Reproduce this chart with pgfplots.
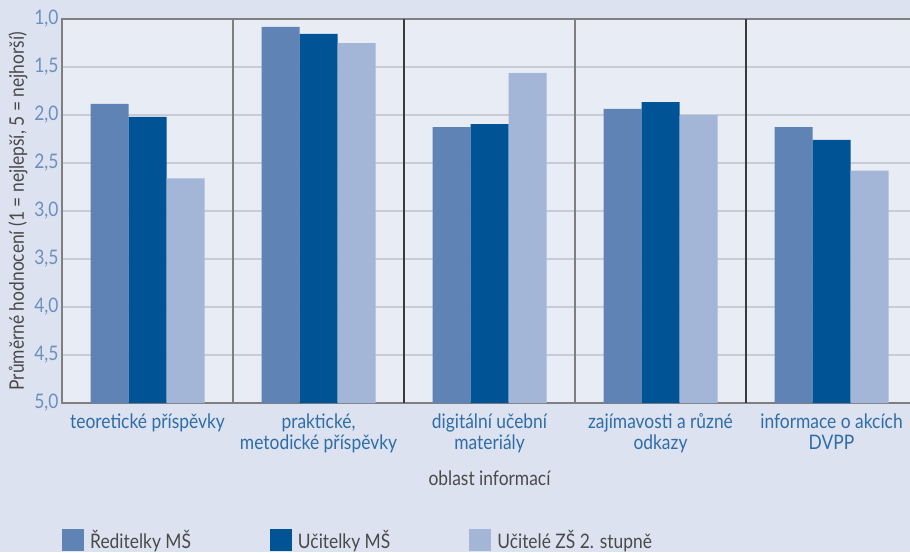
\documentclass[border=0pt]{standalone}
\usepackage{fontspec}
\setmainfont{Lato}[FakeStretch=0.87]
\usepackage{pgfplots}
\usepackage{pgfplotstable}
\pgfplotsset{compat=1.18}
\definecolor{bgout}{HTML}{DCE2EF}
\definecolor{bgin}{HTML}{E8ECF5}
\definecolor{cA}{HTML}{5F83B5}
\definecolor{cB}{HTML}{005496}
\definecolor{cC}{HTML}{A3B6D7}
\definecolor{lab}{HTML}{2F6DA8}
\definecolor{tickc}{HTML}{6A90C2}
\definecolor{txt}{HTML}{4A4A4A}
\definecolor{gridc}{HTML}{C9CCD5}
\definecolor{axc}{HTML}{7F7F82}
\definecolor{sepdark}{HTML}{3A3A3C}
% values: mean rating (1 = best, 5 = worst)
\pgfplotstableread{
x v
0 1.885
1 1.083
2 2.125
3 1.937
4 2.125
}\reditelky
\pgfplotstableread{
x v
0 2.02
1 1.156
2 2.094
3 1.865
4 2.26
}\ucitelky
\pgfplotstableread{
x v
0 2.66
1 1.25
2 1.562
3 2.00
4 2.58
}\ucitelezs
\begin{document}
\begin{tikzpicture}[x=1pt,y=1pt]
\fill[bgout] (0,0) rectangle (910,552);
\useasboundingbox (0,0) rectangle (910,552);
\begin{axis}[
  at={(62pt,149pt)}, anchor=south west,
  width=855pt, height=384pt, scale only axis,
  xmin=-0.5, xmax=4.5, ymin=0, ymax=4,
  axis background/.style={fill=bgin},
  ybar=0pt, bar width=38pt,
  axis line style={draw=axc, line width=1.6pt},
  major tick length=0pt,
  xtick={0,1,2,3,4},
  xticklabels={teoretické příspěvky,{praktické,\\metodické příspěvky},{digitální učební\\materiály},{zajímavosti a různé\\odkazy},{informace o akcích\\DVPP}},
  xticklabel style={font=\fontsize{20}{21}\selectfont, text=lab, align=center, anchor=north, yshift=-7pt},
  ytick={0,0.5,...,4},
  yticklabels={{5,0},{4,5},{4,0},{3,5},{3,0},{2,5},{2,0},{1,5},{1,0}},
  yticklabel style={font=\fontsize{20}{22}\selectfont, text=tickc},
  ymajorgrids,
  grid style={draw=gridc, line width=1.3pt},
  ylabel={Průměrné hodnocení (1 = nejlepší, 5 = nejhorší)},
  ylabel style={font=\fontsize{20}{22}\selectfont, text=txt},
  xlabel={oblast informací},
  xlabel style={font=\fontsize{20}{22}\selectfont, text=txt, at={(axis description cs:0.5,0)}, anchor=center, yshift=-75pt},
  legend columns=3,
  legend style={at={(axis description cs:0,0)}, anchor=north west, yshift=-125pt, draw=none, fill=none, inner sep=0pt, font=\fontsize{20}{22}\selectfont, text=txt, /tikz/every odd column/.append style={column sep=4pt}, /tikz/every even column/.append style={column sep=77pt}},
  legend image code/.code={\path[#1, draw=none] (0pt,-11pt) rectangle (22pt,11pt);},
  clip=false,
]
\addplot[fill=cA, draw=none] table[x=x, y expr=5-\thisrow{v}] {\reditelky};
\addplot[fill=cB, draw=none] table[x=x, y expr=5-\thisrow{v}] {\ucitelky};
\addplot[fill=cC, draw=none] table[x=x, y expr=5-\thisrow{v}] {\ucitelezs};
\legend{Ředitelky MŠ, Učitelky MŠ, Učitelé ZŠ 2. stupně}
\draw[axc, line width=1.4pt] (axis cs:0.5,0) -- (axis cs:0.5,4);
\draw[sepdark, line width=1.2pt] (axis cs:1.5,0) -- (axis cs:1.5,4);
\draw[axc, line width=1.4pt] (axis cs:2.5,0) -- (axis cs:2.5,4);
\draw[sepdark, line width=1.2pt] (axis cs:3.5,0) -- (axis cs:3.5,4);
\end{axis}
\end{tikzpicture}
\end{document}
